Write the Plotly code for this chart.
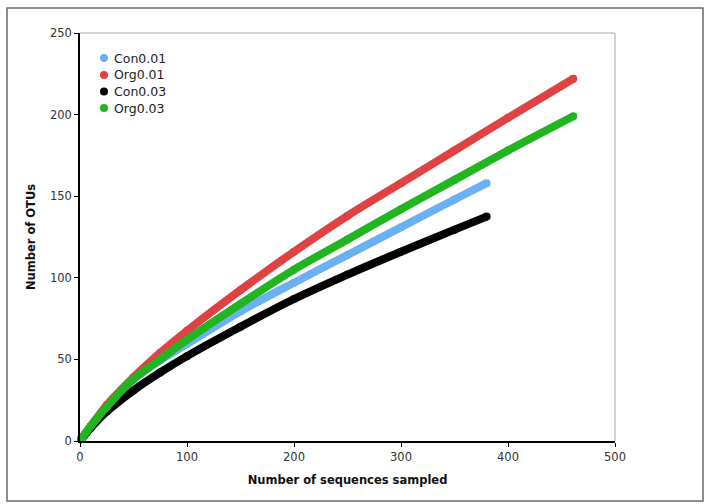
import plotly.graph_objects as go

# ---- data ----
names = ["Con0.01", "Org0.01", "Con0.03", "Org0.03"]
colors = ["#6cb0f4", "#e04242", "#000000", "#22b522"]

con001_x = [1, 10, 25, 50, 75, 100, 150, 200, 250, 300, 350, 380]
con001_y = [1, 9, 21, 37.5, 49.5, 59.5, 79.5, 97, 114, 131, 148, 158]

org001_x = [1, 10, 25, 50, 75, 100, 150, 200, 250, 300, 350, 400, 461]
org001_y = [1, 9, 22, 39, 54, 67.5, 92.5, 116, 138, 158, 178, 198, 222]

con003_x = [1, 10, 25, 50, 75, 100, 150, 200, 250, 300, 350, 380]
con003_y = [1, 8, 18, 31, 42, 52, 70, 87, 102, 116, 129.5, 137.5]

org003_x = [1, 10, 25, 50, 75, 100, 150, 200, 250, 300, 350, 400, 461]
org003_y = [1, 9, 21, 38, 50, 62, 84, 105, 123.5, 142, 160, 178, 199]

xs = [con001_x, org001_x, con003_x, org003_x]
ys = [con001_y, org001_y, con003_y, org003_y]

x_ticks = [0, 100, 200, 300, 400, 500]
y_ticks = [0, 50, 100, 150, 200, 250]

FONT = "DejaVu Sans"

fig = go.Figure()
for n, c, x, y in zip(names, colors, xs, ys):
    fig.add_trace(go.Scatter(
        x=x, y=y, name=n, mode="lines+markers",
        line=dict(color=c, width=8, shape="spline", smoothing=0.8),
        marker=dict(color=c, size=8),
        cliponaxis=False, showlegend=False,
    ))

# plot area in pixels: left 80, right 615, top 33, bottom 441
L, R, T, B = 80, 615, 33, 441
W, H = R - L, B - T

def px(xp):
    return (xp - L) / W

def py(yp):
    return (B - yp) / H

shapes = [
    # outer frame
    dict(type="rect", xref="paper", yref="paper",
         x0=px(7), x1=px(703), y0=py(501), y1=py(8),
         line=dict(color="#6a6a6a", width=1.5), layer="below"),
    # top and right plot-area edges (light gray)
    dict(type="line", xref="paper", yref="paper", x0=0, x1=1, y0=1, y1=1,
         line=dict(color="#a8a8a8", width=1)),
    dict(type="line", xref="paper", yref="paper", x0=1, x1=1, y0=0, y1=1,
         line=dict(color="#a8a8a8", width=1)),
]

# legend (manual, to match compact spacing)
annotations = []
leg_y = [58, 75, 91.5, 108]
for n, c, yy in zip(names, colors, leg_y):
    r = 4
    shapes.append(dict(type="circle", xref="paper", yref="paper",
                       x0=px(104 - r), x1=px(104 + r), y0=py(yy + r), y1=py(yy - r),
                       fillcolor=c, line=dict(width=0)))
    annotations.append(dict(text=n, xref="paper", yref="paper",
                            x=px(112), y=py(yy), xanchor="left", yanchor="middle",
                            showarrow=False, font=dict(family=FONT, size=12.5, color="#222")))

fig.update_layout(
    width=712, height=504,
    margin=dict(l=L, r=712 - R, t=T, b=504 - B),
    paper_bgcolor="white", plot_bgcolor="white",
    font=dict(family=FONT, size=11, color="#333"),
    shapes=shapes, annotations=annotations,
    showlegend=False,
    xaxis=dict(
        range=[0, 500], tickvals=x_ticks, ticktext=[str(v) for v in x_ticks],
        showgrid=False, zeroline=False,
        showline=True, linecolor="#000", linewidth=1.5,
        ticks="outside", ticklen=4, tickcolor="#000", tickwidth=1,
        tickfont=dict(family=FONT, size=11.5, color="#333"),
        title=dict(text="<b>Number of sequences sampled</b>",
                   font=dict(family=FONT, size=11.5, color="#111"), standoff=13),
    ),
    yaxis=dict(
        range=[0, 250], tickvals=y_ticks, ticktext=[str(v) for v in y_ticks],
        showgrid=False, zeroline=False,
        showline=True, linecolor="#000", linewidth=1.5,
        ticks="outside", ticklen=4, tickcolor="#000", tickwidth=1,
        tickfont=dict(family=FONT, size=11.5, color="#333"),
        title=dict(text="<b>Number of OTUs</b>",
                   font=dict(family=FONT, size=11.5, color="#111"), standoff=12),
    ),
)

fig.write_html("out.html")
